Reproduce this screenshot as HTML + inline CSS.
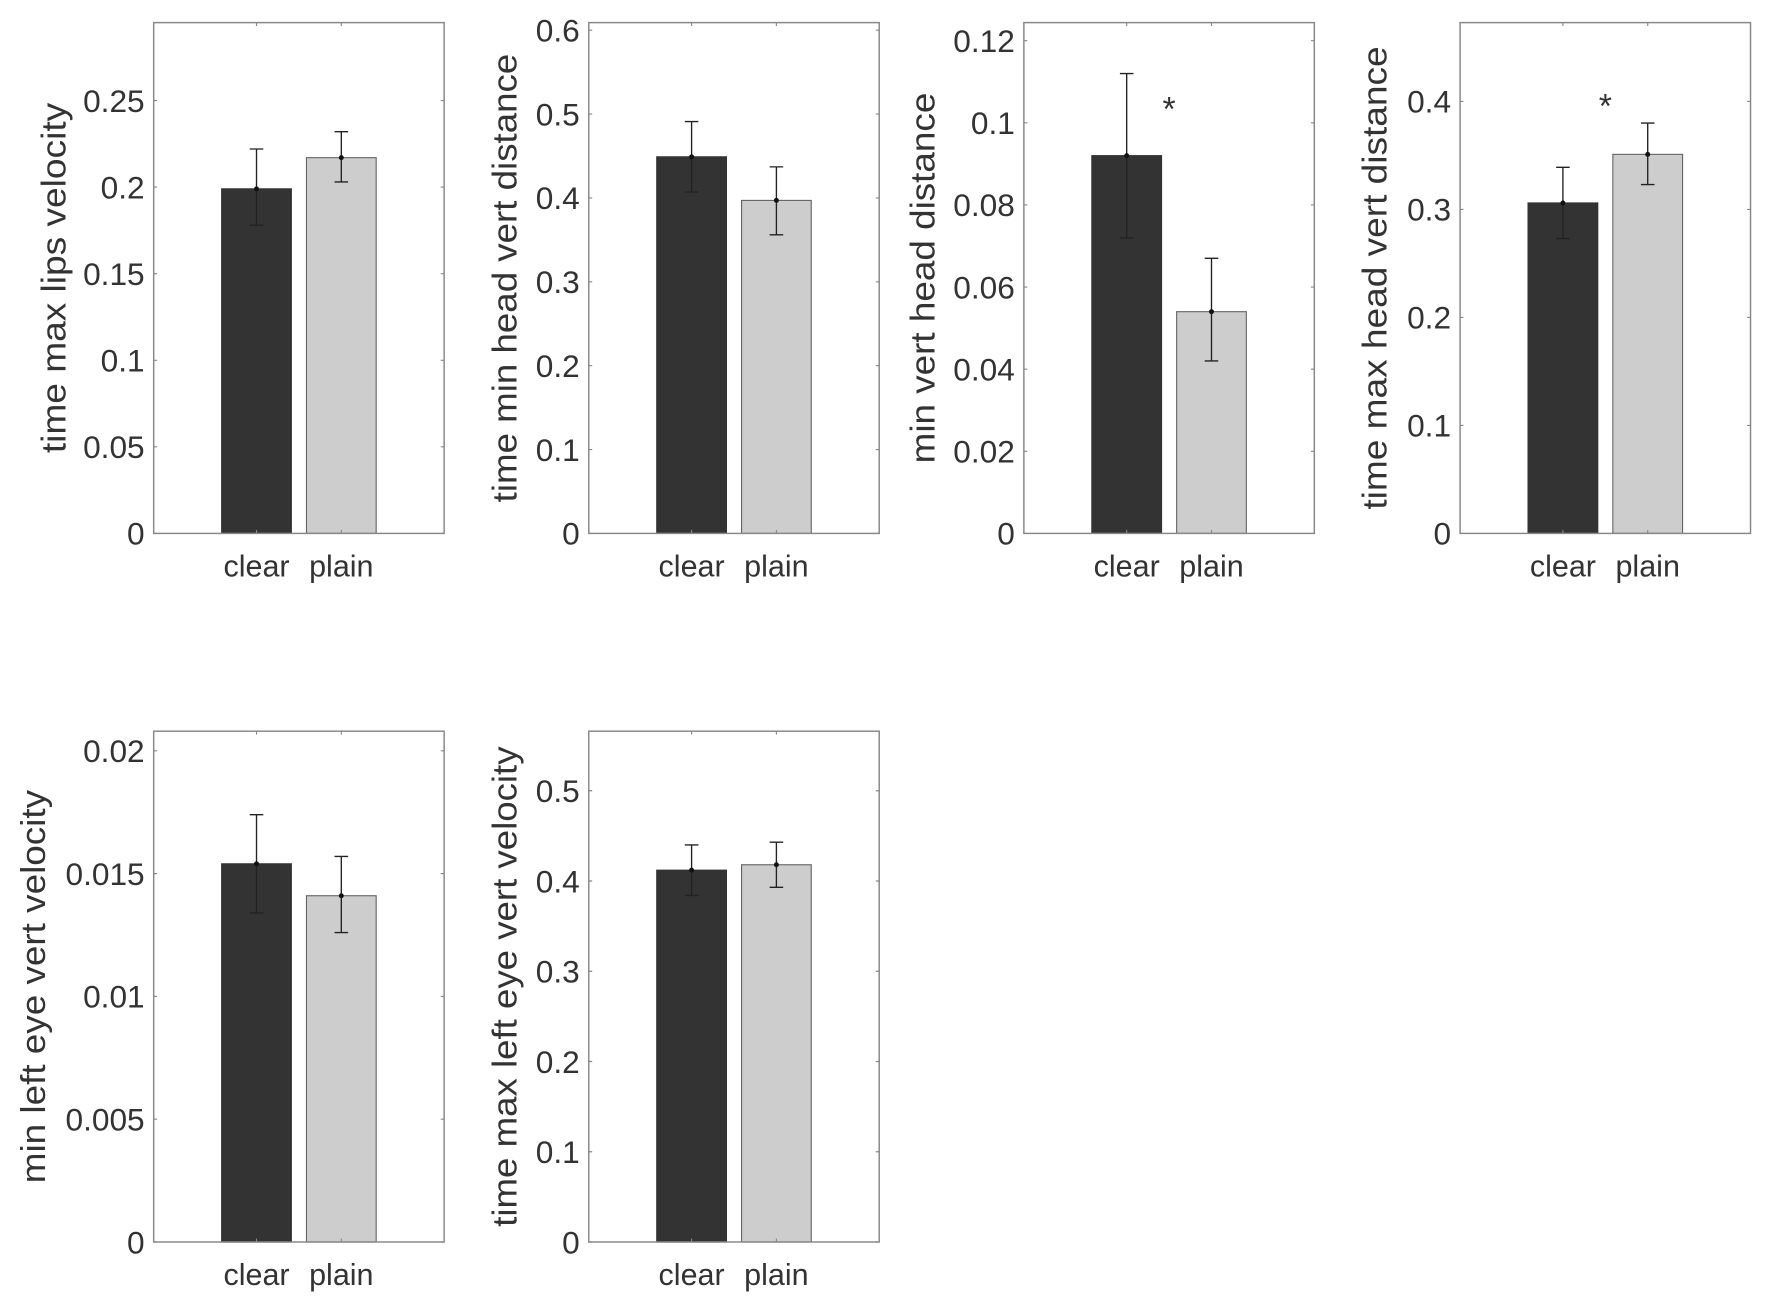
<!DOCTYPE html>
<html><head><meta charset="utf-8"><style>
html,body{margin:0;padding:0;background:#fff;}
svg{display:block;}
text{font-family:"Liberation Sans",Arial,sans-serif;fill:#333;}
</style></head><body>
<svg id="fig" width="1772" height="1308" viewBox="0 0 1568 1157.4" preserveAspectRatio="none" xmlns="http://www.w3.org/2000/svg"></svg>
<script>
// Data per panel
const categories = ["clear", "plain"];
const panelTitles = ["time max lips velocity","time min head vert distance","min vert head distance","time max head vert distance","min left eye vert velocity","time max left eye vert velocity"];
const clearMeans = [0.199, 0.449, 0.092, 0.306, 0.0154, 0.412];
const plainMeans = [0.217, 0.397, 0.054, 0.351, 0.0141, 0.418];
const clearLow = [0.178, 0.407, 0.072, 0.273, 0.0134, 0.384];
const clearHigh = [0.222, 0.491, 0.112, 0.339, 0.0174, 0.440];
const plainLow = [0.203, 0.356, 0.042, 0.323, 0.0126, 0.393];
const plainHigh = [0.232, 0.437, 0.067, 0.380, 0.0157, 0.443];
const yMax = [0.295, 0.609, 0.1244, 0.473, 0.0208, 0.566];
const tickLabels = [
 ["0","0.05","0.1","0.15","0.2","0.25"],
 ["0","0.1","0.2","0.3","0.4","0.5","0.6"],
 ["0","0.02","0.04","0.06","0.08","0.1","0.12"],
 ["0","0.1","0.2","0.3","0.4"],
 ["0","0.005","0.01","0.015","0.02"],
 ["0","0.1","0.2","0.3","0.4","0.5"]
];
const starValues = [null, null, 0.105, 0.402, null, null];

// layout (not data)
const boxes = [[136,20],[521,20],[906,20],[1292,20],[136,647],[521,647]];
const labelOff = [88,74,89,75,106,74];
const labelLen = [310,397,328,410,348,425];
const W = 257, H = 452;
const NS = "http://www.w3.org/2000/svg";
const svg = document.getElementById('fig');
function mk(tag, attrs, parent){const e=document.createElementNS(NS,tag);for(const k in attrs)e.setAttribute(k,attrs[k]);(parent||svg).appendChild(e);return e;}

panelTitles.forEach((title,i)=>{
  const [bx,by]=boxes[i];
  const g=mk('g',{});
  
  
  const y=v=>by+H-(v/yMax[i])*H;
  const xc=[bx+W*0.354,bx+W*0.646];
  const bw=W*0.24;
  const means=[clearMeans[i],plainMeans[i]];
  const lows=[clearLow[i],plainLow[i]];
  const highs=[clearHigh[i],plainHigh[i]];
  means.forEach((m,j)=>{
    const r=mk('rect',{x:xc[j]-bw/2,y:y(m),width:bw,height:by+H-y(m),fill:j==0?'#333':'#cdcdcd',stroke:j==0?'#333':'#666','stroke-width':1},g);
    
    
    const e=mk('path',{d:`M${xc[j]},${y(lows[j])}V${y(highs[j])}M${xc[j]-6},${y(lows[j])}H${xc[j]+6}M${xc[j]-6},${y(highs[j])}H${xc[j]+6}`,stroke:'#222','stroke-width':1.2,fill:'none'},g);
    
    
    mk('circle',{cx:xc[j],cy:y(m),r:2.2,fill:'#111'},g);
    const t=mk('text',{x:xc[j],y:by+H+38,'text-anchor':'middle','font-size':27},g);
    t.textContent=categories[j];
    
    
  });
  const b=mk('rect',{x:bx,y:by,width:W,height:H,fill:'none',stroke:'#888','stroke-width':1.3},g);
  
  
  xc.forEach(x=>{mk('path',{d:`M${x},${by}v3M${x},${by+H}v-3`,stroke:'#888','stroke-width':1},g);});
  tickLabels[i].forEach(lbl=>{
    const v=parseFloat(lbl), yy=y(v);
    mk('path',{d:`M${bx},${yy}h3M${bx+W},${yy}h-3`,stroke:'#888','stroke-width':1},g);
    const t=mk('text',{x:bx-8,y:yy+10,'text-anchor':'end','font-size':28},g);
    t.textContent=lbl;
    
    
  });
  const cx=bx-labelOff[i], cy=by+H/2;
  const yl=mk('text',{x:cx,y:cy,'text-anchor':'middle','font-size':30,transform:`rotate(-90 ${cx} ${cy})`,dy:10,textLength:labelLen[i],lengthAdjust:'spacingAndGlyphs'},g);
  yl.textContent=title;
  
  
  if(starValues[i]!==null){
    const s=mk('text',{x:(xc[0]+xc[1])/2,y:y(starValues[i])+16,'text-anchor':'middle','font-size':30},g);
    s.textContent='*';
    
    
  }
});
</script>
</body></html>
